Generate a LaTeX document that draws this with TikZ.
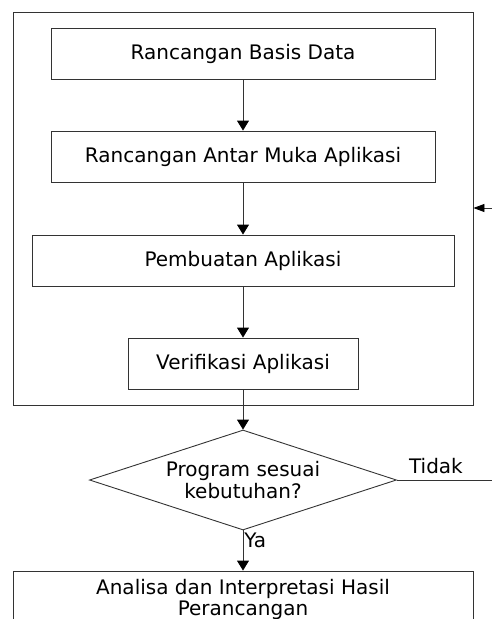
\documentclass[tikz,border=0pt]{standalone}
\usepackage{fontspec}
\setmainfont{DejaVu Sans}
\usetikzlibrary{shapes.geometric,arrows.meta}
\tikzset{
  stepbox/.style={draw=black!80, line width=0.9pt, minimum height=51pt, inner sep=0pt, align=center},
  flow/.style={draw=black!80, line width=0.9pt, -{Triangle[width=12pt,length=10pt,black]}},
}
\begin{document}
\begin{tikzpicture}[x=1pt, y=-1pt, font=\fontsize{20}{22}\selectfont]
  \useasboundingbox (0,0) rectangle (492,619);
  \clip (0,0) rectangle (492,619);
  % Loop box
  \node[stepbox, minimum width=460pt, minimum height=393pt] (loop) at (243,208.5) {};
  % Steps
  \node[stepbox, minimum width=384pt] (basis) at (243,53.5) {Rancangan Basis Data};
  \node[stepbox, minimum width=384pt] (antar) at (243,156.5) {Rancangan Antar Muka Aplikasi};
  \node[stepbox, minimum width=422pt] (buat) at (243,260.5) {Pembuatan Aplikasi};
  \node[stepbox, minimum width=230pt] (verif) at (243,363.5) {Verifikasi Aplikasi};
  % Decision
  \node[stepbox, diamond, aspect=3, minimum width=307pt, minimum height=100pt] (cek) at (243,480) {Program sesuai\\kebutuhan?};
  \node[stepbox, minimum width=460pt, minimum height=56pt] (hasil) at (243,599) {Analisa dan Interpretasi Hasil\\[-1pt]Perancangan};
  \coordinate (tidak) at (492,480);
  \coordinate (balik) at (492,208);
  % Arrows
  \draw[flow] (basis) -- (antar);
  \draw[flow] (antar) -- (buat);
  \draw[flow] (buat) -- (verif);
  \draw[flow] (verif) -- (cek);
  \draw[flow] (cek) -- node[pos=0.25, right, inner sep=1pt]{Ya} (hasil);
  \draw[draw=black!80, line width=0.9pt] (cek.east) -- node[pos=0.41, above=2pt]{Tidak} (tidak);
  \draw[flow, -{Triangle[width=8pt,length=11pt,black]}] (balik) -- (balik -| loop.east);
\end{tikzpicture}
\end{document}
